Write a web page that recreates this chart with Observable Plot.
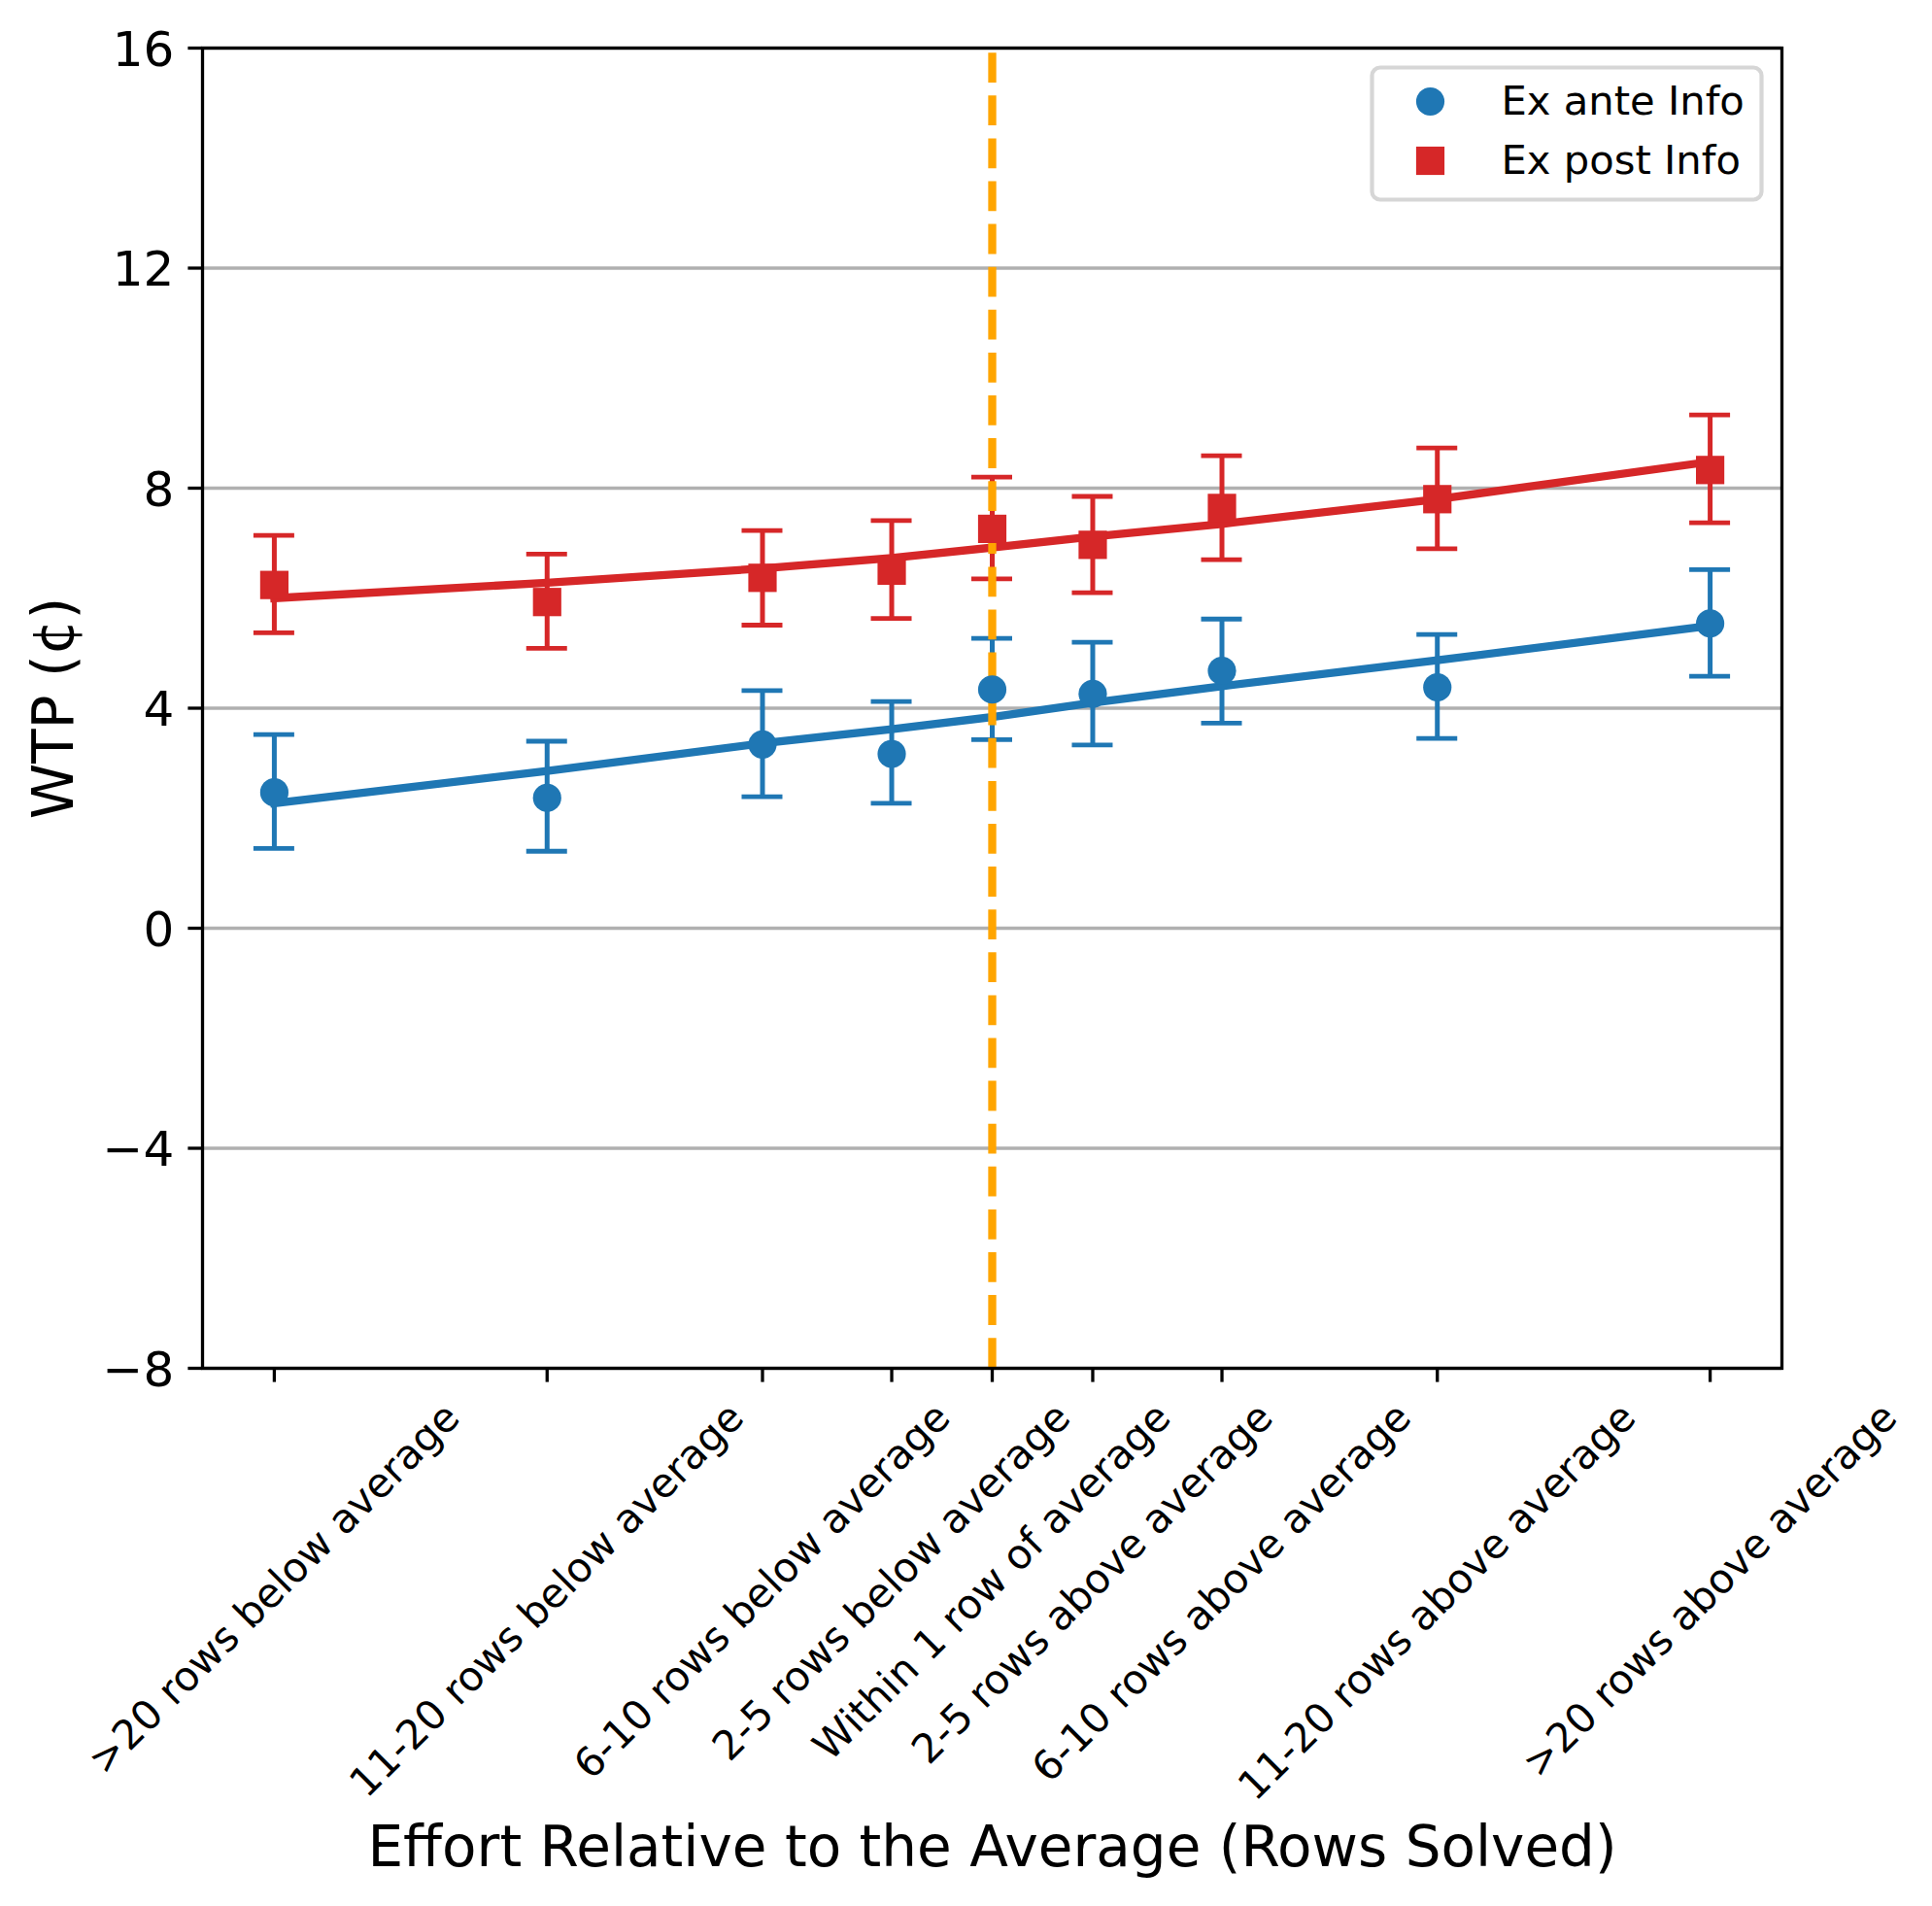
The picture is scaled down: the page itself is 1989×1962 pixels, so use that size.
<!DOCTYPE html>
<html>
<head>
<meta charset="utf-8">
<script src="https://cdn.jsdelivr.net/npm/d3@7"></script>
<script src="https://cdn.jsdelivr.net/npm/@observablehq/plot@0.6"></script>
<style>
  html, body { margin: 0; padding: 0; background: white; }
</style>
</head>
<body>
<div id="chart"></div>
<script>
// ---------- data ----------
const categories = [
  ">20 rows below average",
  "11-20 rows below average",
  "6-10 rows below average",
  "2-5 rows below average",
  "Within 1 row of average",
  "2-5 rows above average",
  "6-10 rows above average",
  "11-20 rows above average",
  ">20 rows above average"
];
const xPositions = [-25, -15.5, -8, -3.5, 0, 3.5, 8, 15.5, 25];

const exAnteMean  = [2.47, 2.37, 3.34, 3.17, 4.34, 4.26, 4.68, 4.38, 5.54];
const exAnteLower = [1.45, 1.40, 2.39, 2.27, 3.43, 3.33, 3.73, 3.45, 4.58];
const exAnteUpper = [3.52, 3.40, 4.32, 4.12, 5.27, 5.20, 5.62, 5.34, 6.52];
const exAnteFit   = [2.27, 2.86, 3.36, 3.62, 3.84, 4.10, 4.40, 4.87, 5.50];

const exPostMean  = [6.24, 5.93, 6.37, 6.50, 7.26, 6.97, 7.64, 7.80, 8.33];
const exPostLower = [5.37, 5.09, 5.51, 5.63, 6.35, 6.10, 6.70, 6.90, 7.37];
const exPostUpper = [7.14, 6.80, 7.23, 7.41, 8.20, 7.85, 8.59, 8.73, 9.33];
const exPostFit   = [6.00, 6.28, 6.54, 6.73, 6.92, 7.12, 7.35, 7.80, 8.48];

const yTicks = [-8, -4, 0, 4, 8, 12, 16];
const referenceX = [0];
const legendLabels = ["Ex ante Info", "Ex post Info"];

const xLabel = "Effort Relative to the Average (Rows Solved)";
const yLabel = "WTP (¢)";

// ---------- style ----------
const BLUE = "#1f77b4", RED = "#d62728", ORANGE = "orange";
const W = 1989, H = 1962;
const ML = 208, MR = 155, MT = 49, MB = 554;
const XTICK_FS = 41.7, YTICK_FS = 50, LABEL_FS = 58, LEGEND_FS = 41.7;
const TICK_LEN = 14.6, TICK_PAD = 14.6, AX_W = 3.3;

const ante = xPositions.map((x, i) => ({x, mean: exAnteMean[i], lo: exAnteLower[i], hi: exAnteUpper[i], fit: exAnteFit[i]}));
const post = xPositions.map((x, i) => ({x, mean: exPostMean[i], lo: exPostLower[i], hi: exPostUpper[i], fit: exPostFit[i]}));

function errorBars(data, color) {
  return [
    Plot.ruleX(data, {x: "x", y1: "lo", y2: "hi", stroke: color, strokeWidth: 5}),
    Plot.ruleY(data, {y: "hi", x1: "x", x2: "x", insetLeft: -21, insetRight: -21, stroke: color, strokeWidth: 4.8}),
    Plot.ruleY(data, {y: "lo", x1: "x", x2: "x", insetLeft: -21, insetRight: -21, stroke: color, strokeWidth: 4.8})
  ];
}

// measure x tick labels for matplotlib-like centered rotated placement
const ctx = document.createElement("canvas").getContext("2d");
ctx.font = `${XTICK_FS}px "DejaVu Sans"`;
const lineH = 0.983 * XTICK_FS;
const xTickLabelMarks = categories.map((lab, i) => {
  const L = ctx.measureText(lab).width;
  return Plot.text([{label: lab, x: xPositions[i]}], {
    x: "x", text: "label", frameAnchor: "bottom",
    rotate: -45, textAnchor: "middle", lineAnchor: "middle",
    fontSize: XTICK_FS, fill: "black",
    dy: TICK_LEN + TICK_PAD + 0.7071 * (L + lineH) / 2
  });
});

const fmt = d => (d < 0 ? "\u2212" + Math.abs(d) : String(d));

// legend geometry (pixel offsets inside the frame)
const LG = {left: 1412 - ML, top: 69 - MT, right: (W - MR) - 1813, bottom: (H - MB) - 205};
const legMarkerDx = 1472 - ML, legTextDx = 1545 - ML;
const legRowDy = [104 - MT, 165 - MT];

const chart = Plot.plot({
  width: W, height: H,
  marginLeft: ML, marginRight: MR, marginTop: MT, marginBottom: MB,
  style: {fontFamily: "DejaVu Sans", background: "white", overflow: "visible"},
  x: {domain: [-27.5, 27.5], axis: null},
  y: {domain: [-8, 16], axis: null},
  marks: [
    // grid
    Plot.ruleY(yTicks, {y: d => d, stroke: "#b0b0b0", strokeWidth: AX_W}),
    // error bars
    ...errorBars(ante, BLUE),
    ...errorBars(post, RED),
    // fitted lines
    Plot.line(ante, {x: "x", y: "fit", stroke: BLUE, strokeWidth: 8.3, strokeLinecap: "square", strokeLinejoin: "round"}),
    Plot.line(post, {x: "x", y: "fit", stroke: RED, strokeWidth: 8.3, strokeLinecap: "square", strokeLinejoin: "round"}),
    // reference line at average
    Plot.ruleX(referenceX, {x: d => d, y1: -8, y2: 16, stroke: ORANGE, strokeWidth: 8.3, strokeDasharray: "30.8,13.3"}),
    // markers
    Plot.dot(ante, {x: "x", y: "mean", r: 14.6, fill: BLUE, stroke: "none"}),
    Plot.dot(post, {x: "x", y: "mean", r: 16.47, symbol: "square", fill: RED, stroke: "none"}),
    // axes frame
    Plot.frame({stroke: "black", strokeWidth: AX_W}),
    // y ticks
    Plot.ruleY(yTicks, {y: d => d, x1: -27.5, x2: -27.5, insetLeft: -TICK_LEN, stroke: "black", strokeWidth: AX_W}),
    Plot.text(yTicks, {y: d => d, text: fmt, frameAnchor: "left", dx: -(TICK_LEN + TICK_PAD), dy: 2,
      textAnchor: "end", lineAnchor: "middle", fontSize: YTICK_FS, fill: "black"}),
    // x ticks
    Plot.ruleX(xPositions, {x: d => d, y1: -8, y2: -8, insetBottom: -TICK_LEN, stroke: "black", strokeWidth: AX_W}),
    ...xTickLabelMarks,
    // axis labels
    Plot.text([xLabel], {frameAnchor: "bottom", dy: 512, textAnchor: "middle", lineAnchor: "bottom", fontSize: LABEL_FS, fill: "black"}),
    Plot.text([yLabel], {frameAnchor: "left", dx: -152, rotate: -90, textAnchor: "middle", lineAnchor: "middle", fontSize: LABEL_FS, fill: "black"}),
    // legend
    Plot.frame({insetLeft: LG.left, insetTop: LG.top, insetRight: LG.right, insetBottom: LG.bottom, rx: 8.3, ry: 8.3,
      fill: "white", fillOpacity: 0.8, stroke: "#d6d6d6", strokeWidth: 4.2}),
    Plot.dot([legendLabels[0]], {frameAnchor: "top-left", dx: legMarkerDx, dy: legRowDy[0], r: 14.6, fill: BLUE, stroke: "none"}),
    Plot.dot([legendLabels[1]], {frameAnchor: "top-left", dx: legMarkerDx, dy: legRowDy[1], r: 16.47, symbol: "square", fill: RED, stroke: "none"}),
    Plot.text([legendLabels[0]], {frameAnchor: "top-left", dx: legTextDx, dy: legRowDy[0], textAnchor: "start", lineAnchor: "middle", fontSize: LEGEND_FS, fill: "black"}),
    Plot.text([legendLabels[1]], {frameAnchor: "top-left", dx: legTextDx, dy: legRowDy[1], textAnchor: "start", lineAnchor: "middle", fontSize: LEGEND_FS, fill: "black"})
  ]
});

document.getElementById("chart").appendChild(chart);
</script>
</body>
</html>
